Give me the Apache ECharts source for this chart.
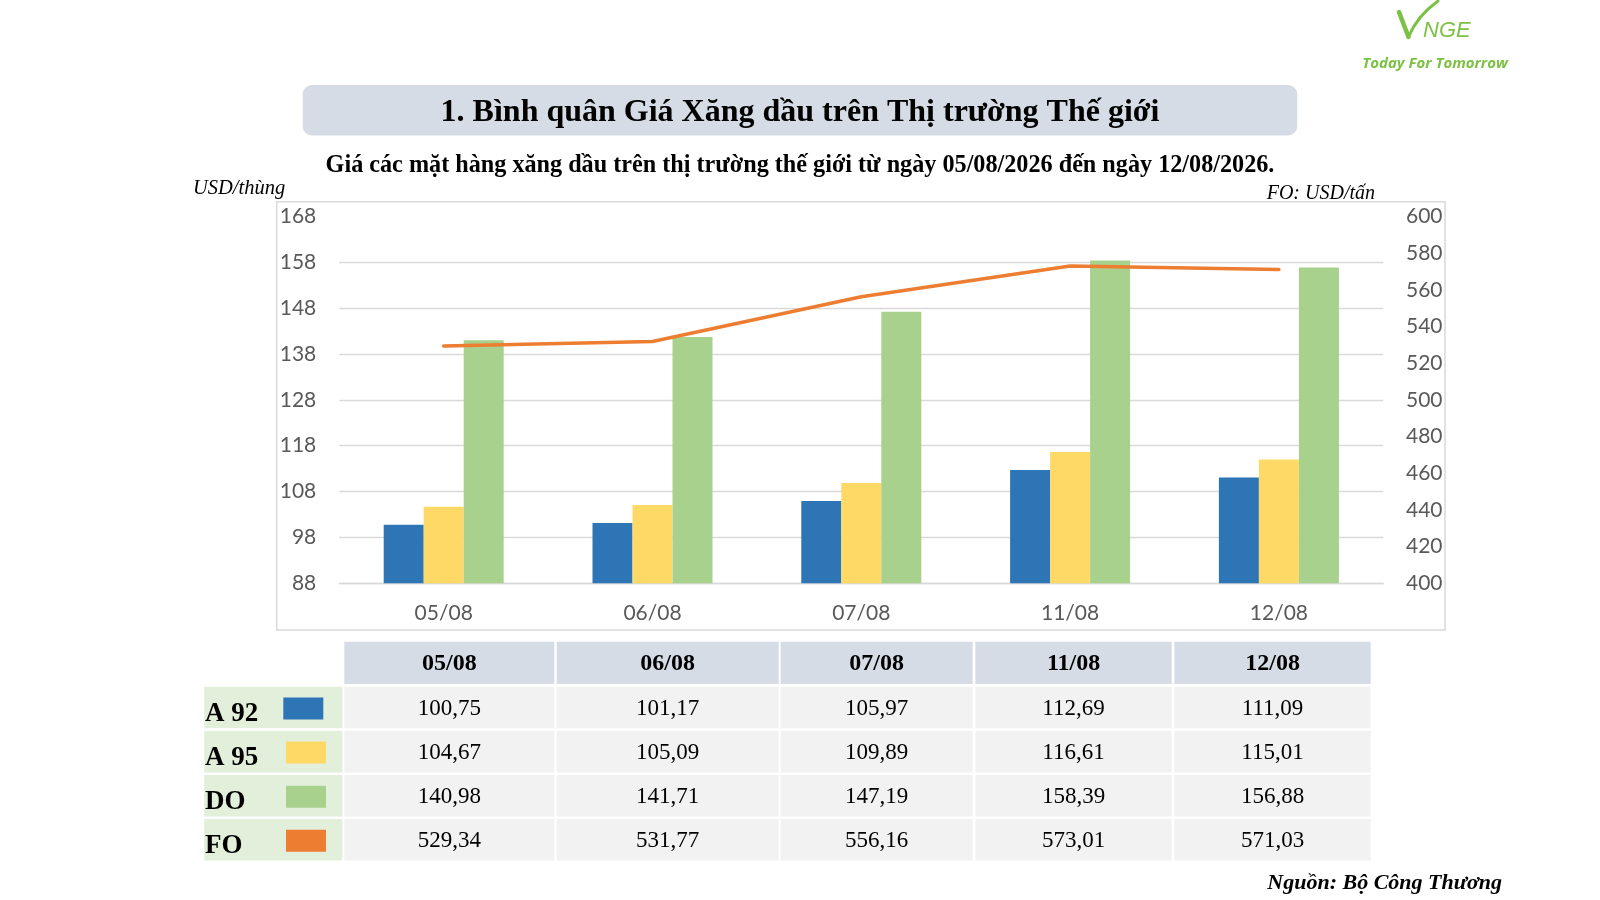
<!DOCTYPE html>
<html>
<head>
<meta charset="utf-8">
<script src="https://cdn.jsdelivr.net/npm/echarts@6/dist/echarts.min.js"></script>
<style>
html,body{margin:0;padding:0;background:#fff;}
#c{width:1600px;height:900px;}
</style>
</head>
<body>
<div id="c"></div>
<script>
// ---- data ----
const categories = ['05/08', '06/08', '07/08', '11/08', '12/08'];
const seriesNames = ['A 92', 'A 95', 'DO', 'FO'];
const a92 = [100.75, 101.17, 105.97, 112.69, 111.09];
const a95 = [104.67, 105.09, 109.89, 116.61, 115.01];
const dieselDO = [140.98, 141.71, 147.19, 158.39, 156.88];
const fuelFO = [529.34, 531.77, 556.16, 573.01, 571.03];
const leftLabelTicks = [88, 98, 108, 118, 128, 138, 148, 158, 168];
const leftGridTicks = [88, 98, 108, 118, 128, 138, 148, 158];
const rightMin = 400, rightMax = 600, rightStep = 20;

const titleText = '1. Bình quân Giá Xăng dầu trên Thị trường Thế giới';
const subtitleText = 'Giá các mặt hàng xăng dầu trên thị trường thế giới từ ngày 05/08/2026 đến ngày 12/08/2026.';
const leftUnit = 'USD/thùng';
const rightUnit = 'FO: USD/tấn';
const sourceText = 'Nguồn: Bộ Công Thương';

// ---- styles / layout ----
const colors = ['#2e75b6', '#ffd966', '#a9d18e', '#ed7d31'];
const serif = "'Liberation Serif', 'DejaVu Serif', serif";
const sans = "Lato, 'Liberation Sans', sans-serif";
const axisColor = '#595959';
const gridColor = '#d9d9d9';

const colX = [344.3, 556.7, 780.6, 975.4, 1174.4];
const colW = [210, 222, 192, 196.3, 196.3];
const headY = 641.7, headH = 42.3;
const rowY0 = 686.7, rowPitch = 44.1, rowH = 41.6;
const labX = 204.3, labW = 138;

const fmt = v => v.toFixed(2).replace('.', ',');
const tableRows = [a92, a95, dieselDO, fuelFO];

const graphics = [];
// title box
graphics.push({type: 'rect', shape: {x: 302.7, y: 85, width: 994.5, height: 50.5, r: 9}, style: {fill: '#d6dce5'}});
graphics.push({type: 'text', x: 800, y: 112.5, style: {text: titleText, font: "bold 32px " + serif, fill: '#000', align: 'center', verticalAlign: 'middle'}});
graphics.push({type: 'text', x: 800, y: 165.5, style: {text: subtitleText, font: "bold 24.2px " + serif, fill: '#000', align: 'center', verticalAlign: 'middle'}});
// unit labels
graphics.push({type: 'text', x: 193, y: 188.5, style: {text: leftUnit, font: "italic 20.5px " + serif, fill: '#000', align: 'left', verticalAlign: 'middle'}});
graphics.push({type: 'text', x: 1375, y: 193.5, style: {text: rightUnit, font: "italic 20px " + serif, fill: '#000', align: 'right', verticalAlign: 'middle'}});
// chart frame
graphics.push({type: 'rect', shape: {x: 276.7, y: 201.7, width: 1168.3, height: 428.3}, style: {fill: 'none', stroke: '#d9d9d9', lineWidth: 1.5}, z: 0});
// table header
categories.forEach((c, j) => {
  graphics.push({type: 'rect', shape: {x: colX[j], y: headY, width: colW[j], height: headH}, style: {fill: '#d6dce5'}});
  graphics.push({type: 'text', x: colX[j] + colW[j] / 2, y: headY + headH / 2 + 1, style: {text: c, font: "bold 24px " + serif, fill: '#000', align: 'center', verticalAlign: 'middle'}});
});
// table rows
tableRows.forEach((vals, i) => {
  const y = rowY0 + i * rowPitch;
  graphics.push({type: 'rect', shape: {x: labX, y: y, width: labW, height: rowH}, style: {fill: '#e2efda'}});
  graphics.push({type: 'text', x: 205, y: y + 27, style: {text: seriesNames[i], font: "bold 27px " + serif, fill: '#000', align: 'left', verticalAlign: 'middle'}});
  graphics.push({type: 'rect', shape: {x: i === 0 ? 283.3 : 286, y: y + 10.8, width: 40, height: 22}, style: {fill: colors[i]}});
  vals.forEach((v, j) => {
    graphics.push({type: 'rect', shape: {x: colX[j], y: y, width: colW[j], height: rowH}, style: {fill: '#f2f2f2'}});
    graphics.push({type: 'text', x: colX[j] + colW[j] / 2, y: y + rowH / 2 + 1.5, style: {text: fmt(v), font: "23px " + serif, fill: '#000', align: 'center', verticalAlign: 'middle'}});
  });
});
// source
graphics.push({type: 'text', x: 1502, y: 883, style: {text: sourceText, font: "bold italic 22px " + serif, fill: '#000', align: 'right', verticalAlign: 'middle'}});
// logo
const logoGreen = '#7cc143';
graphics.push({type: 'polyline', shape: {points: [[1399, 12], [1408.5, 37]]}, style: {stroke: logoGreen, lineWidth: 4.5, fill: 'none', lineCap: 'round'}});
graphics.push({type: 'bezierCurve', shape: {x1: 1408.5, y1: 37, cpx1: 1417, cpy1: 16, x2: 1438, y2: 1}, style: {stroke: logoGreen, lineWidth: 3, fill: 'none', lineCap: 'round'}});
graphics.push({type: 'text', x: 1423, y: 31, style: {text: 'NGE', font: "italic 22px 'Liberation Sans', sans-serif", fill: logoGreen, align: 'left', verticalAlign: 'middle'}});
graphics.push({type: 'text', x: 1435, y: 63.5, style: {text: 'Today For Tomorrow', font: "bold italic 15px 'Open Sans', sans-serif", fill: logoGreen, align: 'center', verticalAlign: 'middle'}});

const barSeries = [a92, a95, dieselDO].map((d, i) => ({
  name: seriesNames[i],
  type: 'bar',
  data: d,
  barWidth: 40,
  barGap: '0%',
  itemStyle: {color: colors[i]},
  yAxisIndex: 0,
  z: 2
}));

const option = {
  animation: false,
  backgroundColor: '#fff',
  grid: {left: 339.3, right: 216.7, top: 216.4, bottom: 316.7},
  xAxis: {
    type: 'category',
    data: categories,
    axisLine: {show: true, lineStyle: {color: gridColor, width: 1.3}},
    axisTick: {show: false},
    axisLabel: {color: axisColor, fontSize: 21, fontFamily: sans, margin: 19.5}
  },
  yAxis: [{
    type: 'value',
    min: 88, max: 168,
    axisLine: {show: false},
    axisTick: {show: false, customValues: leftGridTicks},
    axisLabel: {color: axisColor, fontSize: 21, fontFamily: sans, margin: 23, customValues: leftLabelTicks},
    splitLine: {show: true, lineStyle: {color: gridColor, width: 1.3}}
  }, {
    type: 'value',
    min: rightMin, max: rightMax, interval: rightStep,
    position: 'right',
    axisLine: {show: false},
    axisTick: {show: false},
    axisLabel: {color: axisColor, fontSize: 21, fontFamily: sans, margin: 22.7},
    splitLine: {show: false}
  }],
  series: barSeries.concat([{
    name: seriesNames[3],
    type: 'line',
    data: fuelFO,
    yAxisIndex: 1,
    symbol: 'none',
    smooth: false,
    lineStyle: {color: colors[3], width: 3.5, cap: 'round'},
    itemStyle: {color: colors[3]},
    z: 5
  }]),
  graphic: {elements: graphics}
};

const chart = echarts.init(document.getElementById('c'), null, {renderer: 'canvas'});
chart.setOption(option);
</script>
</body>
</html>
